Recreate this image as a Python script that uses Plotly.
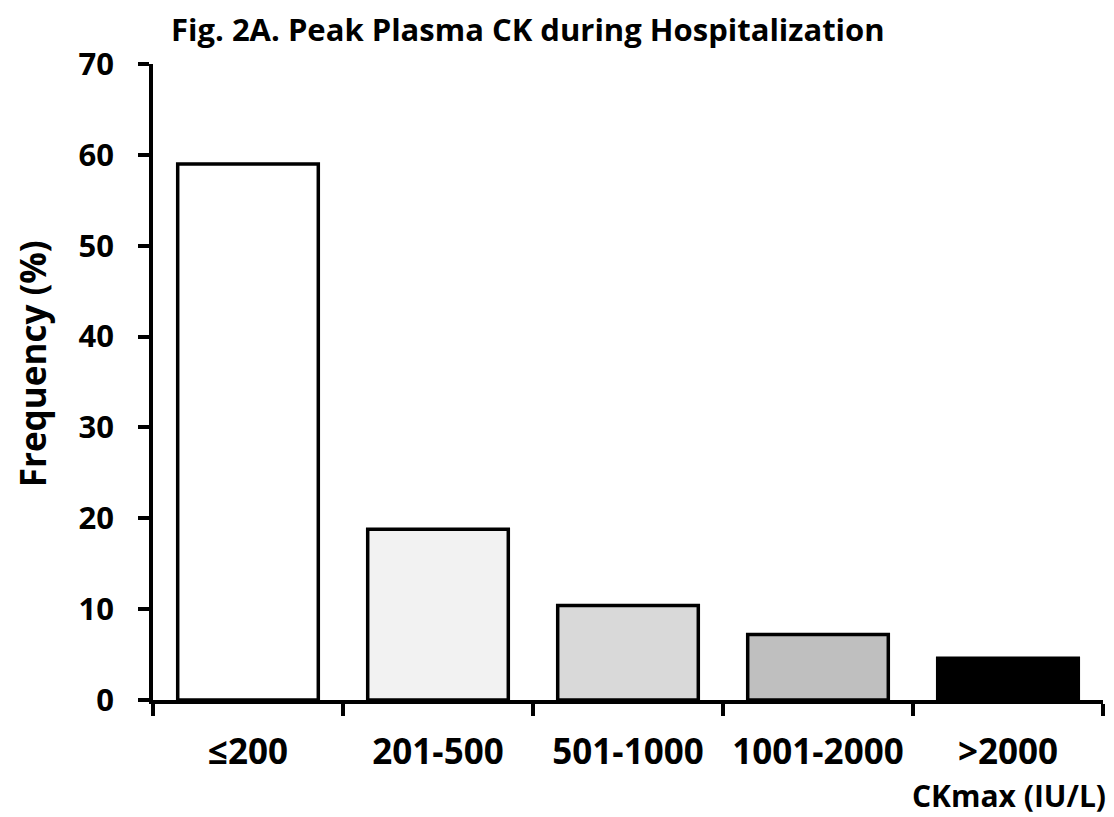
import plotly.graph_objects as go

categories = ["≤200", "201-500", "501-1000", "1001-2000", ">2000"]
frequency = [59.0, 18.8, 10.4, 7.2, 4.6]
bar_colors = ["#ffffff", "#f2f2f2", "#d9d9d9", "#bfbfbf", "#000000"]
y_ticks = [0, 10, 20, 30, 40, 50, 60, 70]

FONT = "Open Sans, Lato, Arial, sans-serif"

fig = go.Figure(go.Bar(
    x=categories, y=frequency,
    marker=dict(color=bar_colors, line=dict(color="black", width=3.5)),
    width=0.74,
))

# page body has an 8px margin, so figure is 8px smaller and margins shifted
fig.update_layout(
    width=1106, height=809,
    margin=dict(l=145, r=11, t=56, b=117, autoexpand=False),
    plot_bgcolor="white", paper_bgcolor="white",
    showlegend=False,
    font=dict(family=FONT, color="black"),
    annotations=[
        dict(text="Fig. 2A. Peak Plasma CK during Hospitalization",
             xref="paper", yref="paper", x=0.3947, y=1.0, yshift=35,
             xanchor="center", yanchor="middle", showarrow=False, borderpad=0,
             font=dict(size=31, family=FONT, weight="bold")),
        dict(text="CKmax (IU/L)",
             xref="paper", yref="paper", x=1.0, y=0, xshift=5, yshift=-95,
             xanchor="right", yanchor="middle", showarrow=False,
             font=dict(size=30, family=FONT, weight="bold")),
        dict(text="Frequency (%)", textangle=-90,
             xref="paper", yref="paper", x=0, y=0.528, xshift=-121,
             xanchor="center", yanchor="middle", showarrow=False,
             font=dict(size=35, family=FONT, weight="bold")),
    ],
)

fig.update_xaxes(
    type="category", tickson="boundaries", ticks="outside", ticklen=12,
    tickwidth=3.5, tickcolor="black", showline=True, linecolor="black",
    linewidth=3.5, showgrid=False, zeroline=False, automargin=False,
    tickfont=dict(size=35, family=FONT, weight="bold"), ticklabelstandoff=18,
)
fig.update_yaxes(
    range=[0, 70], tickvals=y_ticks, ticks="outside", ticklen=11,
    tickwidth=3.5, tickcolor="black", showline=True, linecolor="black",
    linewidth=3.5, showgrid=False, zeroline=False, automargin=False,
    tickfont=dict(size=31, family=FONT, weight="bold"), ticklabelstandoff=18,
)

fig.write_html("out.html")
